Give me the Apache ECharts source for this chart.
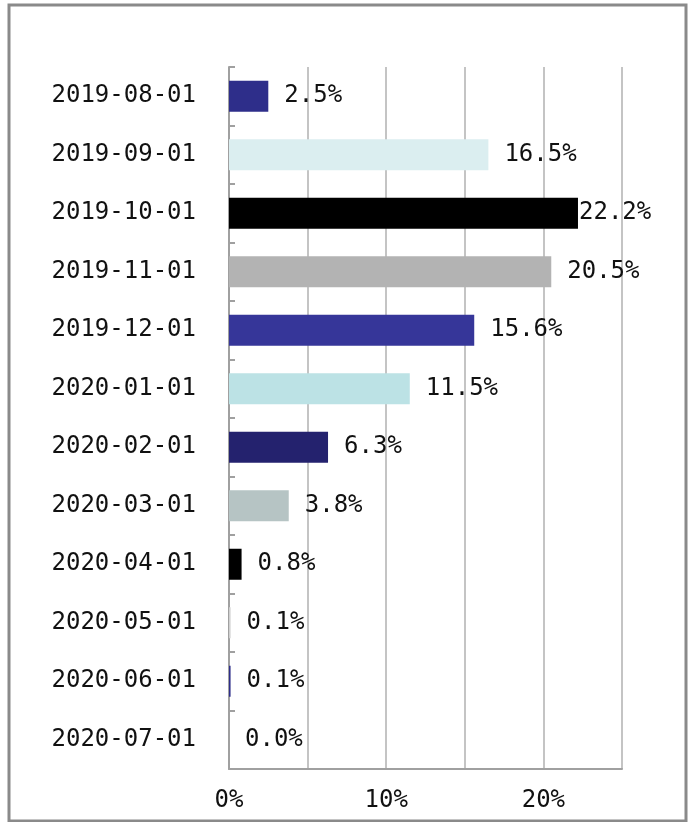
<!DOCTYPE html>
<html>
<head>
<meta charset="utf-8">
<script src="https://cdn.jsdelivr.net/npm/echarts@6/dist/echarts.min.js"></script>
<style>
  html, body { margin: 0; padding: 0; background: #fff; }
  #chart { width: 688px; height: 822px; }
</style>
</head>
<body>
<div id="chart"></div>
<script>
// data
var months = ['2019-08-01','2019-09-01','2019-10-01','2019-11-01','2019-12-01','2020-01-01',
              '2020-02-01','2020-03-01','2020-04-01','2020-05-01','2020-06-01','2020-07-01'];
var shares = [2.5, 16.5, 22.2, 20.5, 15.6, 11.5, 6.3, 3.8, 0.8, 0.1, 0.1, 0.0];
var barColors = ['#2e2e8a','#dbeef0','#000000','#b3b3b3','#363699','#bce2e5',
                 '#24226e','#b6c4c4','#000000','#d0d0d0','#2e2e8a','#bce2e5'];

var font = '"DejaVu Sans Mono", monospace';

var chart = echarts.init(document.getElementById('chart'));

var barData = shares.map(function (v, i) {
    var item = { value: v, itemStyle: { color: barColors[i] } };
    // the biggest bar's label sits right against the bar end
    if (v === 22.2) item.label = { distance: 1 };
    return item;
});

var option = {
    animation: false,
    backgroundColor: '#fff',
    graphic: [{
        type: 'rect',
        shape: { x: 9, y: 5, width: 677, height: 816 },
        style: { fill: 'none', stroke: '#8a8a8a', lineWidth: 3 },
        silent: true
    }],
    grid: { left: 229, right: 66, top: 67, bottom: 53 },
    xAxis: {
        type: 'value',
        min: 0,
        max: 25,
        interval: 5,
        axisLine: { show: true, lineStyle: { color: '#a0a0a0', width: 2 } },
        axisTick: { show: false },
        splitLine: { lineStyle: { color: '#c4c4c4', width: 2 } },
        axisLabel: {
            margin: 20,
            fontFamily: font,
            fontSize: 24,
            color: '#111',
            formatter: function (v) { return v % 10 === 0 ? v + '%' : ''; }
        }
    },
    yAxis: {
        type: 'category',
        inverse: true,
        data: months,
        axisLine: { show: true, lineStyle: { color: '#a0a0a0', width: 2 } },
        axisTick: { show: true, inside: true, length: 6, lineStyle: { color: '#a0a0a0', width: 2 } },
        axisLabel: {
            margin: 33,
            fontFamily: font,
            fontSize: 24,
            color: '#111'
        }
    },
    series: [{
        type: 'bar',
        barWidth: 31,
        data: barData,
        label: {
            show: true,
            position: 'right',
            distance: 16,
            fontFamily: font,
            fontSize: 24,
            color: '#111',
            formatter: function (p) { return p.value.toFixed(1) + '%'; }
        }
    }]
};

chart.setOption(option);
</script>
</body>
</html>
